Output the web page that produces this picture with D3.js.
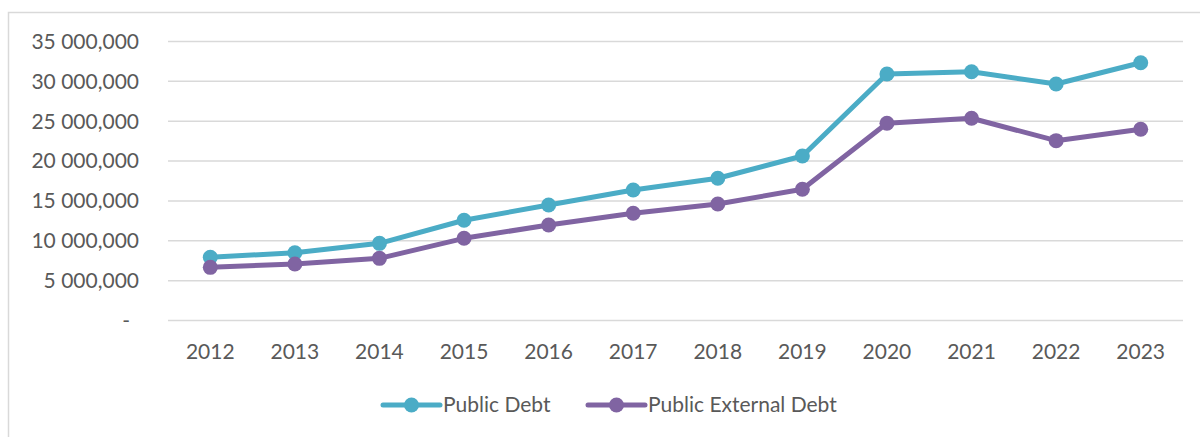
<!DOCTYPE html>
<html>
<head>
<meta charset="utf-8">
<script src="https://cdn.jsdelivr.net/npm/d3@7"></script>
<style>
  body { margin: 0; background: #fff; }
  svg text { font-family: Lato, "Open Sans", sans-serif; fill: #595959; }
</style>
</head>
<body>
<svg id="chart" width="1200" height="437"></svg>
<script>
const years = ['2012','2013','2014','2015','2016','2017','2018','2019','2020','2021','2022','2023']
const publicDebt = [7930000, 8500000, 9680000, 12580000, 14490000, 16370000, 17840000, 20640000, 30920000, 31200000, 29670000, 32340000]
const publicExternalDebt = [6670000, 7090000, 7800000, 10310000, 11980000, 13450000, 14610000, 16460000, 24740000, 25370000, 22560000, 23990000]
const yTicks = [0, 5000000, 10000000, 15000000, 20000000, 25000000, 30000000, 35000000]
const seriesNames = ['Public Debt', 'Public External Debt']
const colors = ['#4BACC6', '#8064A2']

let svg = d3.select('#chart')

// outer frame (only top & left visible)
svg.append('path')
  .attr('d', 'M8.5,437 L8.5,12.5 L1200,12.5')
  .attr('fill', 'none')
  .attr('stroke', '#d9d9d9')
  .attr('stroke-width', 1.5)

let x = d3.scaleBand()
  .domain(years)
  .range([168, 1183])

let y = d3.scaleLinear()
  .domain([0, 35000000])
  .range([320.5, 41.5])

let fmt = v => v === 0 ? '-' : d3.format(',')(v).replace(/,(\d{3})$/, '#$1').replace(/,/g, ' ').replace('#', ',')

// gridlines
svg.append('g')
  .selectAll('line')
  .data(yTicks)
  .join('line')
  .attr('x1', 168)
  .attr('x2', 1183)
  .attr('y1', d => y(d))
  .attr('y2', d => y(d))
  .attr('stroke', '#d9d9d9')
  .attr('stroke-width', 1.5)

// y labels
svg.append('g')
  .selectAll('text')
  .data(yTicks)
  .join('text')
  .attr('x', d => d === 0 ? 130 : 139)
  .attr('y', d => y(d))
  .attr('dy', '0.35em')
  .attr('text-anchor', 'end')
  .style('font-size', '21px')
  .text(fmt)

// x labels
svg.append('g')
  .selectAll('text')
  .data(years)
  .join('text')
  .attr('x', d => x(d) + x.bandwidth() / 2)
  .attr('y', 359)
  .attr('text-anchor', 'middle')
  .style('font-size', '21px')
  .text(d => d)

let line = d3.line()
  .x((d, i) => x(years[i]) + x.bandwidth() / 2)
  .y(d => y(d))

;[publicDebt, publicExternalDebt].forEach((s, k) => {
  let g = svg.append('g')
  g.append('path')
    .datum(s)
    .attr('fill', 'none')
    .attr('stroke', colors[k])
    .attr('stroke-width', 5)
    .attr('stroke-linejoin', 'round')
    .attr('stroke-linecap', 'round')
    .attr('d', line)
  g.selectAll('circle')
    .data(s)
    .join('circle')
    .attr('cx', (d, i) => x(years[i]) + x.bandwidth() / 2)
    .attr('cy', d => y(d))
    .attr('r', 7.5)
    .attr('fill', colors[k])
})

// legend
let legendX = [383, 588]
seriesNames.forEach((name, k) => {
  let lg = svg.append('g').attr('transform', `translate(${legendX[k]},405)`)
  lg.append('line')
    .attr('x1', 0).attr('x2', 57)
    .attr('stroke', colors[k])
    .attr('stroke-width', 5)
    .attr('stroke-linecap', 'round')
  lg.append('circle')
    .attr('cx', 28.5)
    .attr('r', 7.5)
    .attr('fill', colors[k])
  lg.append('text')
    .attr('x', 60)
    .attr('dy', '0.35em')
    .style('font-size', '21px')
    .text(name)
})
</script>
</body>
</html>
